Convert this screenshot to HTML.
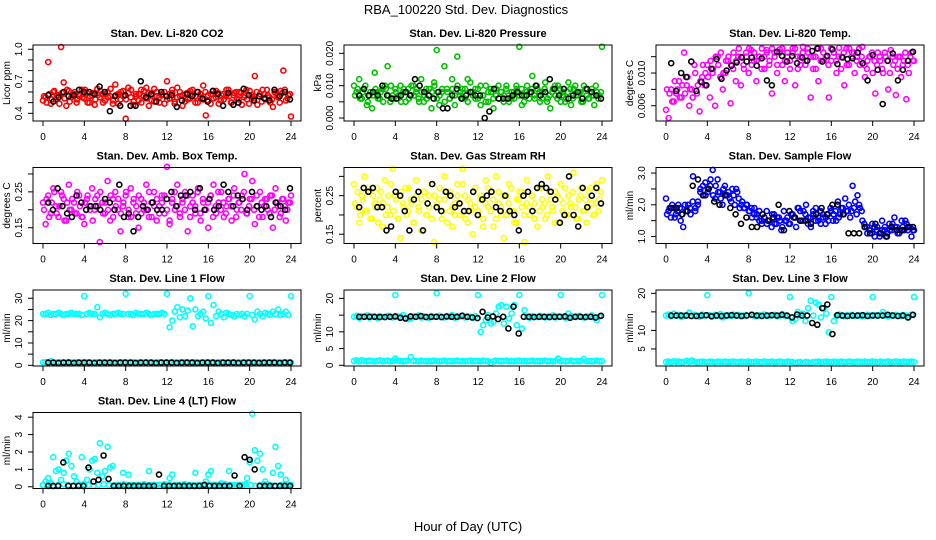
<!DOCTYPE html>
<html><head><meta charset="utf-8"><title>RBA_100220 Std. Dev. Diagnostics</title>
<style>
html,body{margin:0;padding:0;background:#fff;}
svg{display:block;font-family:"Liberation Sans",Arial,sans-serif;}
.tl{font-size:10px;}
.pt{font-size:11px;font-weight:bold;}
</style></head>
<body>
<svg id="chart" width="936" height="540" viewBox="0 0 936 540" xmlns="http://www.w3.org/2000/svg">
<rect width="936" height="540" fill="#fff"/>
<text x="466" y="14" font-size="13" text-anchor="middle">RBA_100220  Std. Dev. Diagnostics</text>
<text x="468" y="531" font-size="13" text-anchor="middle">Hour of Day (UTC)</text>
</svg>
<script>
// ---- data (hour of day 0..24 assumed evenly spaced per series) ----
const xTicks = [0,4,8,12,16,20,24];
const co2Red = [0.52,0.55,0.88,0.49,0.60,0.53,0.57,1.02,0.69,0.47,0.61,0.55,0.58,0.50,0.56,0.62,0.54,0.59,0.50,0.57,0.48,0.63,0.55,0.58,0.52,0.60,0.56,0.49,0.67,0.58,0.53,0.61,0.35,0.64,0.55,0.48,0.58,0.52,0.62,0.56,0.64,0.47,0.57,0.51,0.60,0.55,0.58,0.49,0.70,0.54,0.59,0.51,0.64,0.56,0.47,0.58,0.53,0.61,0.57,0.50,0.60,0.55,0.66,0.38,0.52,0.58,0.54,0.61,0.49,0.57,0.53,0.62,0.56,0.50,0.59,0.54,0.60,0.48,0.57,0.53,0.61,0.55,0.75,0.48,0.58,0.62,0.53,0.57,0.50,0.46,0.59,0.55,0.61,0.80,0.52,0.57,0.37];
const co2Red2 = [0.56,0.50,0.58,0.53,0.61,0.57,0.49,0.59,0.54,0.62,0.51,0.57,0.60,0.53,0.58,0.55,0.62,0.50,0.56,0.59,0.53,0.57,0.61,0.50,0.58,0.55,0.63,0.52,0.57,0.49,0.60,0.56,0.53,0.59,0.62,0.51,0.56,0.58,0.50,0.61,0.54,0.59,0.52,0.63,0.56,0.50,0.57,0.60,0.53,0.58,0.62,0.49,0.55,0.60,0.57,0.51,0.59,0.54,0.62,0.56,0.50,0.58,0.53,0.60,0.57,0.49,0.61,0.55,0.59,0.52,0.58,0.56,0.62,0.50,0.57,0.60,0.53,0.59,0.55,0.62,0.49,0.57,0.54,0.60,0.56,0.51,0.58,0.62,0.55,0.53,0.60,0.57,0.50,0.59,0.62,0.54,0.58];
const co2Black = [0.57,0.51,0.55,0.60,0.56,0.57,0.62,0.60,0.60,0.58,0.65,0.60,0.42,0.56,0.47,0.57,0.47,0.47,0.70,0.55,0.58,0.51,0.60,0.56,0.57,0.46,0.52,0.58,0.56,0.60,0.54,0.51,0.61,0.58,0.47,0.59,0.48,0.50,0.63,0.57,0.52,0.56,0.54,0.52,0.62,0.56,0.60,0.53];
const presGreen = [10,8,12,6,9,4,7,3,14,8,6,9,10,16,5,7,9,6,10,8,5,9,7,10,8,6,12,5,9,7,3,11,21,4,8,16,9,6,12,4,19,7,9,6,12,11,8,6,9,4,7,10,5,8,3,9,6,8,7,10,5,8,6,9,22,4,7,10,8,13,6,9,5,8,11,6,3,9,7,10,5,8,6,11,4,9,7,8,5,10,7,6,9,4,8,7,22];
const presGreen2 = [7,9,6,8,10,5,8,7,9,6,8,5,9,7,10,6,8,7,5,9,8,6,10,7,9,5,8,7,6,9,8,10,6,7,9,5,8,6,9,7,10,8,6,9,5,8,7,9,6,10,7,5,8,9,6,7,10,8,5,9,7,6,8,10,7,9,5,8,6,9,7,10,8,6,9,5,7,8,10,6,9,7,5,8,9,6,10,7,8,5,9,6,8,7,10,6,8];
const presBlack = [7,9,7,8,7,10,7,6,6,7,8,7,12,10,8,7,6,8,3,3,7,9,6,7,8,7,7,0,2,9,6,6,6,7,8,7,7,8,10,7,8,12,9,7,9,6,7,8,6,9,8,7,6];
const tempMag = [5.5,4.5,8,6.5,7.5,9,7,12.5,8.5,6,8,11,7.5,5.3,9.5,8.5,11,7,10,6,12,9.5,8,10,11.5,6.3,10.5,9,12,8.5,11,12.5,10,12.8,11.5,9,12,10.5,12,12.8,11,7.5,12.5,10,12.9,11,9,12.5,11.5,13,8.5,10.5,12,13.2,11,12.5,7,12,10.5,9,13,11.5,12,7,11.5,12.5,10,13.1,12,8.5,11,13,12.5,10,12,11,13.2,9.5,11.5,12,10,7.5,12.5,11.5,10,12,8,12.8,11,7.3,12,9.5,11.5,6.8,10,12.5,11.5];
const tempMag2 = [8,7.5,6.5,9,8,7,8.5,7.5,9.5,8,7,10,8.5,9,11,10,9.5,11.5,10.5,12,11,12.5,10,11.5,12,11,12.5,11.5,13,12,10.5,12,13,11,12.5,11.5,12,13,10.5,12.5,11.5,13,12,11,12.5,13,11.5,12,10.5,12.5,13,12,11,12.5,11.5,13,12,10.5,12,13,11.5,12.5,12,11,13,12.5,11.5,12,10.5,12.5,13,11,12,12.5,11.5,13,12,11,10.5,12,12.5,11.5,11,12,10.5,12.5,11.5,10,12,11.5,10.5,12,11,12.5,11,12,11.5];
const tempBlack = [11.2,7.8,10.0,9.5,11.4,7.8,8.9,8.5,10.5,11.7,9.3,10.3,10.9,11.3,11.9,11.4,11.9,10.9,11.8,9.1,8.5,12.6,12.1,11.4,12.1,11.2,11.9,11.5,12.7,13.0,11.4,12.1,12.9,11.1,11.9,11.7,11.8,12.5,11.2,9.1,12.2,10.4,6.2,11.5,12.4,9.1,10.4,11.5,12.6];
const ambMag = [22,16,24,19,26,21,18,25,23,17,27,20,22,19,24,18,16,23,21,26,20,24,11,22,19,28,17,23,25,20,14,21,24,18,26,22,19,15,23,20,27,18,22,25,17,21,24,19,32,16,23,20,27,18,22,25,14,21,24,19,26,17,22,20,15,24,27,19,22,25,18,21,23,17,26,20,22,24,30,19,23,28,16,21,25,18,23,20,24,15,26,21,19,23,17,22,24];
const ambMag2 = [20,23,18,22,25,19,21,24,17,22,20,23,19,25,21,18,22,24,20,17,23,21,25,19,22,20,24,18,21,23,19,22,25,20,18,23,21,24,19,22,20,25,18,21,23,19,22,24,20,17,22,25,21,19,23,20,24,18,22,21,25,19,23,20,22,24,18,21,25,20,22,19,23,21,24,18,22,20,25,19,21,23,20,24,18,22,21,23,19,24,20,22,18,23,21,20,22];
const ambBlack = [22,20,26,21,19,18,24,22,20,21,21,20,23,22,20,27,18,19,14,18,21,20,22,20,20,23,25,21,24,24,25,20,26,20,23,20,21,27,25,21,24,23,20,25,21,20,21,18,22,21,20,26];
const rhYellow = [28,22,18,25,30,21,26,19,23,27,24,17,29,22,20,32,25,19,14,23,27,21,24,18,29,22,16,26,20,25,28,13,22,24,19,30,26,21,17,23,28,20,32,25,18,23,15,27,21,24,19,29,22,26,17,30,23,20,14,25,28,21,18,24,26,22,13,29,20,25,23,17,27,22,19,30,24,21,26,18,28,23,20,25,22,31,19,24,27,21,18,26,23,20,28,24,29];
const rhYellow2 = [23,26,20,24,21,27,19,25,22,18,26,23,20,25,28,21,24,19,26,22,20,27,23,18,25,21,24,26,20,22,19,25,23,27,21,24,18,26,22,20,25,23,28,19,24,21,26,22,20,25,17,23,27,21,24,19,26,22,25,20,23,27,21,18,24,26,20,23,22,25,19,27,21,24,23,20,26,22,18,25,24,21,27,20,23,26,22,19,25,21,24,22,27,20,23,21,26];
const rhBlack = [22,27,26,27,22,22,16,17,26,25,21,16,24,26,16,23,28,22,21,26,25,22,23,21,21,26,20,24,25,26,22,21,25,21,20,16,25,26,21,27,28,27,26,24,18,20,30,20,17,27,22,25,27,23];
const flowBlue = [2.2,1.8,1.6,1.9,1.7,2.0,1.5,1.3,1.8,2.0,1.7,2.9,1.9,2.1,2.5,2.3,2.7,2.4,2.6,3.1,2.2,2.8,2.4,2.0,2.6,2.3,2.2,2.5,2.0,2.4,1.9,2.1,1.9,2.0,1.8,1.6,1.9,1.7,1.5,1.4,1.6,1.8,1.5,1.3,1.7,1.4,1.6,1.2,1.8,1.5,1.4,1.7,1.6,1.3,1.9,1.5,1.8,2.0,1.6,1.3,1.7,1.9,1.5,1.8,1.6,1.4,1.7,1.9,1.5,1.8,2.1,1.7,1.9,2.2,1.8,1.6,2.6,2.1,2.3,1.9,1.5,1.3,1.1,1.2,1.4,1.0,1.3,1.1,1.5,1.2,1.0,1.4,1.2,1.6,1.3,1.1,1.5,1.2,1.4,1.3,1.0,1.2];
const flowBlue2 = [1.7,1.9,2.0,1.6,1.8,1.9,1.7,2.0,1.8,1.9,2.1,1.8,2.0,2.4,2.6,2.3,2.5,2.8,2.3,2.6,2.4,2.2,2.5,2.3,2.4,2.1,2.3,2.5,2.2,2.0,1.9,2.0,1.8,1.9,1.7,1.6,1.8,1.5,1.6,1.4,1.5,1.7,1.4,1.6,1.5,1.3,1.5,1.6,1.4,1.7,1.6,1.9,1.8,1.5,1.7,1.4,1.6,1.8,1.5,1.6,1.4,1.7,1.6,1.5,1.8,1.7,1.5,1.6,1.9,1.7,1.8,2.0,1.8,1.9,1.7,2.0,1.8,1.4,1.3,1.2,1.1,1.3,1.2,1.0,1.2,1.3,1.1,1.2,1.4,1.3,1.1,1.2,1.3,1.5,1.2,1.3,1.2];
const flowBlack = [1.9,1.9,1.7,1.8,2.6,2.8,2.3,2.5,2.1,2.0,2.3,1.9,1.7,1.4,1.6,1.3,1.3,1.7,1.5,1.6,2.0,1.2,1.8,1.6,1.5,1.5,1.4,1.7,1.9,1.7,2.0,2.0,1.7,1.1,1.1,1.1,1.3,1.1,1.4,1.1,1.0,1.3,1.2,1.2,1.3,1.3];
const l1High = [23,23,23.5,22.5,23,23,23.5,23,22.5,23,23,23.5,23,23,23,22.5,31,23,23.5,23,23,26,21.5,23,23.5,23,22.5,23,23,23.5,23,23,32,23,23,22.5,23.5,23,23,23,23.5,23,22.5,23,23,23,23.5,23,32,17,20,24,26,21.5,25,22,24.5,30,17.5,25,22,23,24,21,31,19,27,22,24,23,21.5,23.5,23,22.5,22,23,22.5,23,22,23,31,22.5,20.5,24,23,22,23.5,23,22.5,24,23,25,22.5,23,24,22.5,31];
const l1Low = [1.3,1.5,1.2,1.8,1.3,1.2,1.4,1.3,1.2,1.3,1.5,1.2,1.3,1.4,1.2,1.3,1.2,1.4,1.3,1.2,1.3,1.4,1.2,1.3,1.3,1.2,1.4,1.3,1.2,1.3,1.2,1.4,1.3,1.2,1.3,1.4,1.2,1.3,1.2,1.3,1.4,1.2,1.3,1.2,1.3,1.4,1.2,1.3,1.3,1.2,1.4,1.3,1.2,1.3,1.2,1.4,1.3,1.2,1.3,1.4,1.2,1.3,1.2,1.3,1.4,1.2,1.3,1.2,1.3,1.4,1.2,1.3,1.2,1.3,1.4,1.2,1.3,1.2,1.3,1.4,1.2,1.3,1.2,1.3,1.4,1.2,1.3,1.2,1.3,1.4,1.2,1.3,1.2,1.3,1.4,1.2,1.3];
const l1Black = [1.2,1.2,1.1,1.2,1.2,1.1,1.2,1.2,1.2,1.1,1.2,1.2,1.2,1.1,1.2,1.2,1.2,1.1,1.2,1.2,1.2,1.1,1.2,1.2,1.2,1.1,1.2,1.2,1.2,1.1,1.2,1.2,1.2,1.1,1.2,1.2,1.2,1.1,1.2,1.2,1.2,1.1,1.2,1.2,1.2,1.1,1.2,1.2];
const l2High = [14.5,14.8,14.2,14.6,14.5,14.9,14.3,14.6,14.5,14.2,14.7,14.5,14.4,14.8,14.5,14.3,21,14.6,14.5,15,14.2,13.8,14,14.6,14.5,14.9,14.3,14.6,14.5,14.2,14.7,14.5,21.5,14.8,14.5,14.3,14.6,14.5,15,14.2,14.6,14.5,14.9,14.3,14.6,14.5,14.2,14.7,21,10,12,13.5,15,12.5,13,15.5,17.5,18,12.5,17.5,14,15.5,18,12,21,11,16.5,14.5,14.2,14.7,14.5,14.4,14.8,14.5,14.3,14.6,14.5,14.9,14.3,14.6,21,14.5,14.2,15.5,14.7,14.5,14.4,14.8,14.5,14.3,14.6,14.5,14.9,14.3,13.5,14.6,21];
const l2Low = [1.3,1.5,1.2,1.6,1.3,1.2,1.4,1.3,1.2,1.3,1.5,1.2,1.3,1.4,1.2,1.3,2.0,1.4,1.3,1.2,1.3,1.4,2.5,1.3,1.3,1.2,1.4,1.3,1.2,1.3,1.2,1.4,1.3,1.2,1.3,1.4,1.2,1.3,1.2,1.3,1.4,1.2,1.3,1.2,1.3,1.4,1.2,1.3,1.3,1.2,1.4,1.3,1.2,0.6,1.2,1.4,1.3,1.2,1.3,1.4,1.2,1.3,1.2,1.3,1.4,1.2,1.3,1.2,1.3,1.4,1.2,1.3,1.2,1.3,1.4,1.2,1.3,1.2,1.3,2.0,1.2,1.3,1.2,1.3,1.4,1.2,1.3,1.2,1.3,1.9,1.2,1.3,1.2,1.3,1.4,1.2,1.3];
const l2Black = [14.5,14.5,14.5,14.5,14.4,14.4,14.5,14.6,14.2,14.0,14.6,14.5,14.7,14.4,14.5,14.5,14.4,14.6,14.5,14.5,14.8,14.5,14.3,14.1,16.0,14.3,14.6,13.8,14.5,11.0,17.5,9.5,14.5,14.5,14.4,14.5,14.5,14.4,14.5,14.5,14.6,14.2,14.5,14.5,14.4,14.5,14.3,14.8];
const l3High = [14,14.3,13.8,14.5,14,14.2,13.6,14,14.1,14.8,13.9,14.2,14,13.7,14.3,14,19.5,14.1,13.8,14.2,14,14.4,13.5,14,14.1,13.9,14.3,14,14.2,13.8,14,14.1,20,14.2,14,13.8,14.1,14,14.3,13.9,14,14.1,14.2,13.8,14,14.4,14,13.9,19,12.5,13,15,14,14.5,12.5,16,18,14,17.5,17,13.5,16,14.5,9.5,19,12.5,14,14.3,14,13.8,14.1,14,14.2,13.9,14,14.1,13.8,14,14.2,14,19,14.1,13.9,14.2,15,14,13.8,14.1,14,14.2,13.9,14,14.1,14,13.5,14.2,19];
const l3Low = [1.5,1.6,1.4,1.7,1.5,1.6,1.4,1.5,1.8,1.5,1.9,1.6,1.4,1.5,1.6,1.5,1.4,1.6,1.5,1.4,1.6,1.5,1.5,1.6,1.4,1.5,1.6,1.5,1.4,1.6,1.5,1.5,1.6,1.4,1.5,1.6,1.5,1.4,1.6,1.5,1.5,1.6,1.4,1.5,1.6,1.5,1.4,1.6,1.5,1.5,1.2,1.4,1.5,1.2,1.5,1.4,1.2,1.5,1.5,1.6,1.4,1.5,1.6,1.5,1.4,1.6,1.5,1.5,1.6,1.4,1.5,1.6,1.5,1.4,1.6,1.5,1.5,1.6,1.4,1.5,1.6,1.5,1.4,1.6,1.5,1.5,1.6,1.4,1.5,1.6,1.5,1.4,1.6,1.5,1.5,1.6,1.5];
const l3Black = [14,14,14,14,13.9,13.9,14,14.1,13.8,14,13.9,14,14.1,14,13.9,14,14.2,14,13.9,14,14.1,14,14.2,14,13.5,14.3,14,14,12,11.5,16,17,9,14.1,14,13.9,14,14,14.1,13.9,14,14,14,14.2,14,13.9,14,13.5,14.2];
const l4Cyan = [0.1,0.3,0.5,0.2,1.7,0.9,1.0,0.4,0.8,1.5,1.9,1.2,0.6,0.3,0.1,1.7,0.1,0.4,1.0,1.5,1.6,0.8,2.5,0.6,0.9,2.3,1.1,1.2,0.1,0.1,0.1,0.8,0.1,0.7,0.1,0.1,0.1,0.1,0.1,0.1,0.1,0.9,0.1,0.1,0.1,0.1,0.1,0.1,0.1,0.5,0.7,0.1,0.1,0.1,0.1,0.1,0.1,0.1,0.1,0.8,0.1,0.1,0.1,0.3,0.7,0.9,0.1,0.1,0.1,0.2,0.1,0.1,0.9,0.1,0.1,0.1,0.1,0.1,0.1,0.5,1.4,4.2,2.1,1.5,1.9,1.0,0.3,0.1,0.1,0.8,2.3,1.2,0.7,0.1,0.4,0.1,0.1];
const l4CyanBase = [0.1,0.15,0.05,0.1,0.15,0.1,0.05,0.1,0.15,0.1,0.05,0.1,0.15,0.1,0.05,0.1,0.15,0.1,0.05,0.1,0.15,0.1,0.05,0.1,0.15,0.1,0.05,0.1,0.15,0.1,0.05,0.1,0.15,0.1,0.05,0.1,0.15,0.1,0.05,0.1,0.15,0.1,0.05,0.1,0.15,0.1,0.05,0.1,0.15,0.1];
const l4Black = [0.05,0.05,0.05,1.4,0.05,0.05,0.05,0.05,1.1,0.3,0.4,1.8,0.45,0.05,0.05,0.05,0.05,0.05,0.05,0.05,0.05,0.05,0.7,0.05,0.05,0.05,0.05,0.05,0.05,0.05,0.05,0.1,0.05,0.05,0.05,0.05,0.05,0.65,0.05,1.7,1.55,1.0,0.05,0.05,0.05,0.05,0.05,0.05,0.05];

// ---- panel layout ----
const colX = [[33,301],[344,612],[656,924]];
const rowY = [45,167.5,290,412.5];
const H = 76;
const panels = [
 {name:"co2",title:"Stan. Dev. Li-820 CO2",ytitle:"Licor ppm",c:0,r:0,dom:[0.328,1.04],ticks:[0.4,0.5,0.6,0.7,0.8,0.9,1.0],labels:{"0.4":"0.4","0.7":"0.7","1":"1.0"},series:[[co2Red,1,"#ff0000",0,24],[co2Red2,1,"#ff0000",0.1,23.9],[co2Black,1,"#000",0.5,23.9]]},
 {name:"pressure",title:"Stan. Dev. Li-820 Pressure",ytitle:"kPa",c:1,r:0,dom:[-0.00093,0.02257],ticks:[0,0.005,0.01,0.015,0.02],labels:{"0":"0.000","0.01":"0.010","0.02":"0.020"},series:[[presGreen,0.001,"#00c000",0,24],[presGreen2,0.001,"#00c000",0.1,23.9],[presBlack,0.001,"#000",0.5,23.9]]},
 {name:"temp",title:"Stan. Dev. Li-820 Temp.",ytitle:"degrees C",c:2,r:0,dom:[0.00413,0.01343],ticks:[0.006,0.008,0.01,0.012],labels:{"0.006":"0.006","0.01":"0.010"},series:[[tempMag,0.001,"#ff00ff",0,24],[tempMag2,0.001,"#ff00ff",0.1,23.9],[tempBlack,0.001,"#000",0.5,23.9]]},
 {name:"amb-box",title:"Stan. Dev. Amb. Box Temp.",ytitle:"degrees C",c:0,r:1,dom:[0.106,0.318],ticks:[0.15,0.2,0.25,0.3],labels:{"0.15":"0.15","0.25":"0.25"},series:[[ambMag,0.01,"#ff00ff",0,24],[ambMag2,0.01,"#ff00ff",0.1,23.9],[ambBlack,0.01,"#000",0.5,23.9]]},
 {name:"rh",title:"Stan. Dev. Gas Stream RH",ytitle:"percent",c:1,r:1,dom:[0.126,0.323],ticks:[0.15,0.2,0.25,0.3],labels:{"0.15":"0.15","0.25":"0.25"},series:[[rhYellow,0.01,"#ffff00",0,24],[rhYellow2,0.01,"#ffff00",0.1,23.9],[rhBlack,0.01,"#000",0.5,23.9]]},
 {name:"sample-flow",title:"Stan. Dev. Sample Flow",ytitle:"ml/min",c:2,r:1,dom:[0.78,3.176],ticks:[1,1.5,2,2.5,3],labels:{"1":"1.0","2":"2.0","3":"3.0"},series:[[flowBlue,1,"#0000ff",0,24],[flowBlue2,1,"#0000ff",0.1,23.9],[flowBlack,1,"#000",0.5,23.9]]},
 {name:"line1",title:"Stan. Dev. Line 1 Flow",ytitle:"ml/min",c:0,r:2,dom:[-0.3,33.7],ticks:[0,5,10,15,20,25,30],labels:{"0":"0","10":"10","20":"20","30":"30"},series:[[l1High,1,"#00ffff",0,24],[l1Low,1,"#00ffff",0,24],[l1Black,1,"#000",0.5,23.9]]},
 {name:"line2",title:"Stan. Dev. Line 2 Flow",ytitle:"ml/min",c:1,r:2,dom:[-0.2,22.5],ticks:[0,5,10,15,20],labels:{"0":"0","5":"5","10":"10","20":"20"},series:[[l2High,1,"#00ffff",0,24],[l2Low,1,"#00ffff",0,24],[l2Black,1,"#000",0.5,23.9]]},
 {name:"line3",title:"Stan. Dev. Line 3 Flow",ytitle:"ml/min",c:2,r:2,dom:[0.4,20.9],ticks:[5,10,15,20],labels:{"5":"5","10":"10","20":"20"},series:[[l3High,1,"#00ffff",0,24],[l3Low,1,"#00ffff",0,24],[l3Black,1,"#000",0.5,23.9]]},
 {name:"line4",title:"Stan. Dev. Line 4 (LT) Flow",ytitle:"ml/min",c:0,r:3,dom:[-0.1,4.27],ticks:[0,1,2,3,4],labels:{"0":"0","1":"1","2":"2","3":"3","4":"4"},series:[[l4CyanBase,1,"#00ffff",0,24],[l4Cyan,1,"#00ffff",0,24],[l4Black,1,"#000",0.5,23.9]]}
];

const NS = "http://www.w3.org/2000/svg";
const svg = document.getElementById("chart");
function mk(tag, attrs, parent){
  const e = document.createElementNS(NS, tag);
  for (const k in attrs) e.setAttribute(k, attrs[k]);
  (parent||svg).appendChild(e);
  return e;
}
panels.forEach(p => {
  const L = colX[p.c][0], R = colX[p.c][1], T = rowY[p.r], B = T + H;
  const xs = h => L + 10 + (R - L - 20) * h / 24;
  const ys = v => B - (v - p.dom[0]) / (p.dom[1] - p.dom[0]) * H;
  const g = mk("g", {});
  
  
  const t = mk("text", {x:(L+R)/2, y:T-8, "text-anchor":"middle", class:"pt"}, g);
  t.textContent = p.title;
  
  
  p.series.forEach((s, si) => {
    const [vals, scale, col, h0, h1] = s;
    const sg = mk("g", {fill:"none", stroke:col, "stroke-width":1.6}, g);
    
    
    vals.forEach((v, i) => {
      const h = h0 + (h1 - h0) * i / (vals.length - 1);
      const c = mk("circle", {cx:xs(h).toFixed(1), cy:ys(v*scale).toFixed(1), r:2.5}, sg);
      
      
    });
  });
  const box = mk("rect", {x:L, y:T, width:R-L, height:H, fill:"none", stroke:"#000", "stroke-width":1}, g);
  
  
  const xa = mk("g", {}, g);
  
  
  xTicks.forEach(h => {
    mk("line", {x1:xs(h), x2:xs(h), y1:B, y2:B+5, stroke:"#000"}, xa);
    const tx = mk("text", {x:xs(h), y:B+19, "text-anchor":"middle", class:"tl"}, xa);
    tx.textContent = h;
  });
  const ya = mk("g", {}, g);
  
  
  p.ticks.forEach(v => {
    const y = ys(v);
    mk("line", {x1:L-5, x2:L, y1:y, y2:y, stroke:"#000"}, ya);
    const lab = p.labels[String(v)];
    if (lab) {
      const tx = mk("text", {x:0, y:0, "text-anchor":"middle", class:"tl", transform:`translate(${L-11},${y}) rotate(-90)`}, ya);
      tx.textContent = lab;
    }
  });
  const yt = mk("text", {x:0, y:0, "text-anchor":"middle", class:"tl", transform:`translate(${L-23},${T+H/2}) rotate(-90)`}, g);
  yt.textContent = p.ytitle;
  
  
});
</script>
</body></html>
